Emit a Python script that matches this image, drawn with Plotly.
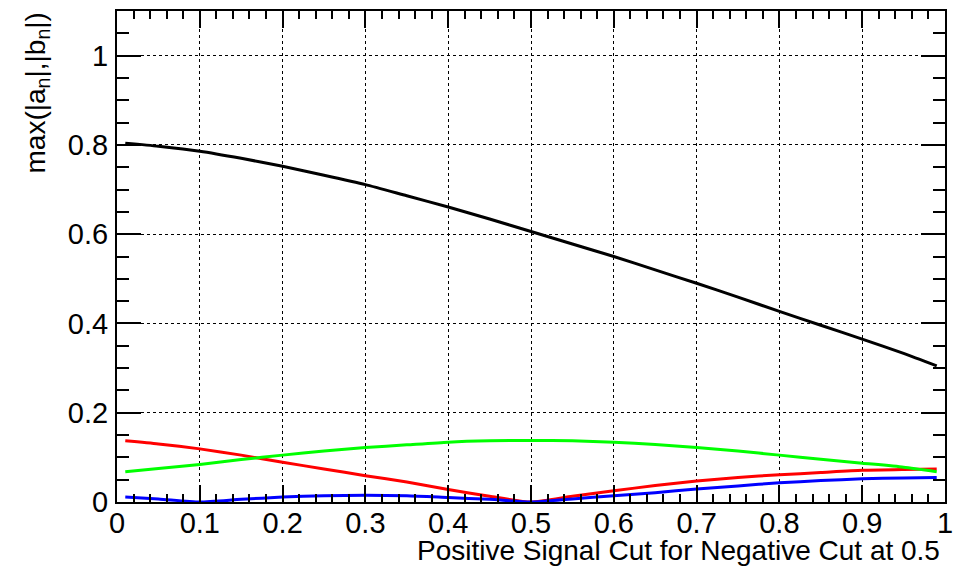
import plotly.graph_objects as go

x_cut = [0.01, 0.05, 0.10, 0.15, 0.20, 0.25, 0.30, 0.35, 0.40, 0.45, 0.50,
         0.55, 0.60, 0.65, 0.70, 0.75, 0.80, 0.85, 0.90, 0.95, 0.99]
black_vals = [0.804, 0.797, 0.786, 0.770, 0.752, 0.732, 0.711, 0.686, 0.661, 0.634, 0.606,
              0.578, 0.550, 0.520, 0.490, 0.459, 0.427, 0.396, 0.365, 0.333, 0.305]
red_vals = [0.137, 0.130, 0.119, 0.105, 0.089, 0.074, 0.059, 0.045, 0.028, 0.013, 0.000,
            0.013, 0.025, 0.037, 0.047, 0.055, 0.061, 0.066, 0.071, 0.073, 0.074]
green_vals = [0.068, 0.075, 0.084, 0.095, 0.105, 0.114, 0.122, 0.128, 0.134, 0.137, 0.138,
              0.137, 0.134, 0.129, 0.122, 0.114, 0.105, 0.096, 0.087, 0.078, 0.068]
blue_vals = [0.011, 0.007, 0.000, 0.006, 0.011, 0.014, 0.015, 0.014, 0.010, 0.006, 0.000,
             0.007, 0.014, 0.021, 0.029, 0.036, 0.043, 0.048, 0.052, 0.054, 0.055]

x_ticks = [0, 0.1, 0.2, 0.3, 0.4, 0.5, 0.6, 0.7, 0.8, 0.9, 1]
x_tick_text = ["0", "0.1", "0.2", "0.3", "0.4", "0.5", "0.6", "0.7", "0.8", "0.9", "1"]
y_ticks = [0, 0.2, 0.4, 0.6, 0.8, 1]
y_tick_text = ["0", "0.2", "0.4", "0.6", "0.8", "1"]

series = [
    (black_vals, "#000000"),
    (red_vals, "#ff0000"),
    (green_vals, "#00ff00"),
    (blue_vals, "#0000ff"),
]

fig = go.Figure()
for vals, col in series:
    fig.add_trace(go.Scatter(x=x_cut, y=vals, mode="lines",
                             line=dict(color=col, width=3, shape="spline", smoothing=0.6),
                             showlegend=False, hoverinfo="skip"))

font_family = "Liberation Sans, Arial, Helvetica, sans-serif"

fig.update_layout(
    width=957, height=566,
    margin=dict(l=117, r=12, t=11, b=64, autoexpand=False),
    paper_bgcolor="white", plot_bgcolor="white",
    font=dict(family=font_family, size=28, color="black"),
    showlegend=False,
)

fig.update_xaxes(
    range=[0, 1], tickmode="array", tickvals=x_ticks, ticktext=x_tick_text,
    ticks="inside", ticklen=17, tickwidth=1.5, tickcolor="black",
    showline=True, linecolor="black", linewidth=2, mirror="allticks",
    showgrid=True, gridcolor="black", griddash="dot", gridwidth=1,
    zeroline=False, tickfont=dict(size=29), ticklabelstandoff=-6,
    minor=dict(dtick=0.02, ticks="inside", ticklen=8, tickwidth=1.5, tickcolor="black", showgrid=False),
)
fig.update_yaxes(
    range=[0, 1.1], tickmode="array", tickvals=y_ticks, ticktext=y_tick_text,
    ticks="inside", ticklen=24, tickwidth=1.5, tickcolor="black",
    showline=True, linecolor="black", linewidth=2, mirror="allticks",
    showgrid=True, gridcolor="black", griddash="dot", gridwidth=1,
    zeroline=False, tickfont=dict(size=29), ticklabelstandoff=1,
    minor=dict(dtick=0.05, ticks="inside", ticklen=12, tickwidth=1.5, tickcolor="black", showgrid=False),
)

fig.add_annotation(
    text="Positive Signal Cut for Negative Cut at 0.5",
    xref="paper", yref="paper", x=(942 - 117) / 828, y=(502 - 550) / 491,
    xanchor="right", yanchor="middle", showarrow=False,
    font=dict(family=font_family, size=28, color="black"),
)
fig.add_annotation(
    text="max(|a<sub>n</sub>|,|b<sub>n</sub>|)",
    xref="paper", yref="paper", x=(37 - 117) / 828, y=1.0,
    xanchor="center", yanchor="top", textangle=-90, showarrow=False,
    font=dict(family=font_family, size=28, color="black"),
)

fig.write_html("out.html")
